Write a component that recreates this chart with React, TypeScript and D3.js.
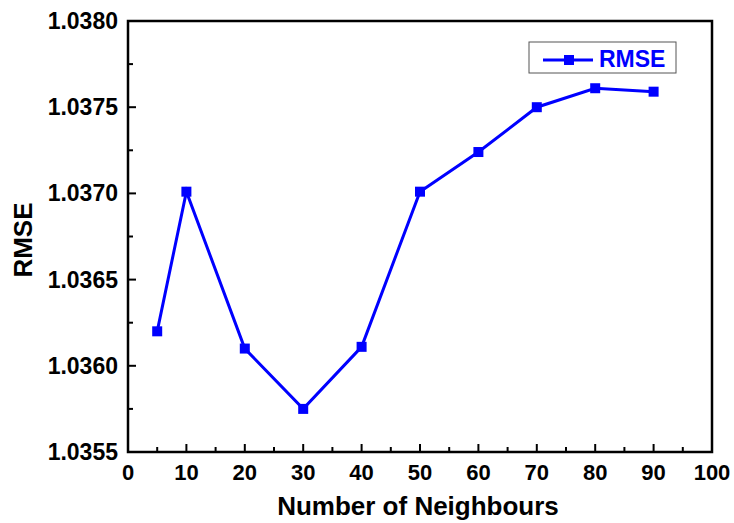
import * as d3 from "d3";
import { useEffect, useRef } from "react";

const neighbours = [5, 10, 20, 30, 40, 50, 60, 70, 80, 90];
const rmse = [1.0362, 1.03701, 1.0361, 1.03575, 1.03611, 1.03701, 1.03724, 1.0375, 1.03761, 1.03759];
const xTicks = [0, 10, 20, 30, 40, 50, 60, 70, 80, 90, 100];
const yTicks = [1.0355, 1.036, 1.0365, 1.037, 1.0375, 1.038];

const App = () => {
  const svgRef = useRef<SVGSVGElement>(null);

  useEffect(() => {
    const width = 734;
    const height = 523;
    const margin = { top: 21, right: 22, bottom: 71, left: 128 };
    const font = "'Liberation Sans', Arial, sans-serif";
    const blue = "#0000ff";

    const svg = d3.select(svgRef.current).attr("width", width).attr("height", height);
    svg.selectAll("*").remove();

    const x = d3.scaleLinear().domain([0, 100]).range([margin.left, width - margin.right]);
    const y = d3.scaleLinear().domain([1.0355, 1.038]).range([height - margin.bottom, margin.top]);

    svg.append("rect").attr("width", width).attr("height", height).attr("fill", "#fff");

    const bottom = y.range()[0];
    const top = y.range()[1];
    const left = x.range()[0];
    const right = x.range()[1];

    // inward ticks, major + minor
    const g = svg.append("g").attr("stroke", "#000").attr("stroke-width", 2);
    const xMinor = d3.range(5, 100, 10);
    xTicks.forEach((t) => {
      g.append("line").attr("x1", x(t)).attr("x2", x(t)).attr("y1", bottom).attr("y2", bottom - 8);
    });
    xMinor.forEach((t) => {
      g.append("line").attr("x1", x(t)).attr("x2", x(t)).attr("y1", bottom).attr("y2", bottom - 5);
    });
    const yMinor = yTicks.slice(0, -1).map((t) => t + 0.00025);
    yTicks.forEach((t) => {
      g.append("line").attr("x1", left).attr("x2", left + 8).attr("y1", y(t)).attr("y2", y(t));
    });
    yMinor.forEach((t) => {
      g.append("line").attr("x1", left).attr("x2", left + 5).attr("y1", y(t)).attr("y2", y(t));
    });

    svg
      .append("rect")
      .attr("x", left)
      .attr("y", top)
      .attr("width", right - left)
      .attr("height", bottom - top)
      .attr("fill", "none")
      .attr("stroke", "#000")
      .attr("stroke-width", 2.5);

    svg
      .selectAll(".xlab")
      .data(xTicks)
      .enter()
      .append("text")
      .attr("x", (d) => x(d))
      .attr("y", 480)
      .attr("text-anchor", "middle")
      .attr("font-family", font)
      .attr("font-weight", "bold")
      .attr("font-size", 22)
      .text((d) => d);

    svg
      .selectAll(".ylab")
      .data(yTicks)
      .enter()
      .append("text")
      .attr("x", left - 10)
      .attr("y", (d) => y(d) + 8)
      .attr("text-anchor", "end")
      .attr("font-family", font)
      .attr("font-weight", "bold")
      .attr("font-size", 23)
      .text((d) => d.toFixed(4));

    svg
      .append("text")
      .attr("x", 418)
      .attr("y", 515)
      .attr("text-anchor", "middle")
      .attr("font-family", font)
      .attr("font-weight", "bold")
      .attr("font-size", 26)
      .text("Number of Neighbours");

    svg
      .append("text")
      .attr("transform", `translate(32, 240) rotate(-90)`)
      .attr("text-anchor", "middle")
      .attr("font-family", font)
      .attr("font-weight", "bold")
      .attr("font-size", 26)
      .text("RMSE");

    const line = d3
      .line<number>()
      .x((_, i) => x(neighbours[i]))
      .y((d) => y(d));

    svg
      .append("path")
      .datum(rmse)
      .attr("d", line)
      .attr("fill", "none")
      .attr("stroke", blue)
      .attr("stroke-width", 3);

    svg
      .selectAll(".pt")
      .data(rmse)
      .enter()
      .append("rect")
      .attr("x", (_, i) => x(neighbours[i]) - 5)
      .attr("y", (d) => y(d) - 5)
      .attr("width", 10)
      .attr("height", 10)
      .attr("fill", blue);

    // legend
    const lg = svg.append("g");
    lg.append("rect")
      .attr("x", 529)
      .attr("y", 42)
      .attr("width", 147)
      .attr("height", 31)
      .attr("fill", "#fff")
      .attr("stroke", "#555")
      .attr("stroke-width", 1);
    lg.append("line")
      .attr("x1", 543)
      .attr("x2", 593)
      .attr("y1", 60)
      .attr("y2", 60)
      .attr("stroke", blue)
      .attr("stroke-width", 3);
    lg.append("rect").attr("x", 564).attr("y", 55).attr("width", 10).attr("height", 10).attr("fill", blue);
    lg.append("text")
      .attr("x", 599)
      .attr("y", 67)
      .attr("font-family", font)
      .attr("font-weight", "bold")
      .attr("font-size", 23)
      .attr("fill", blue)
      .text("RMSE");
  }, []);

  return <svg ref={svgRef} style={{ position: "absolute", left: 0, top: 0 }}></svg>;
};

export default App;
